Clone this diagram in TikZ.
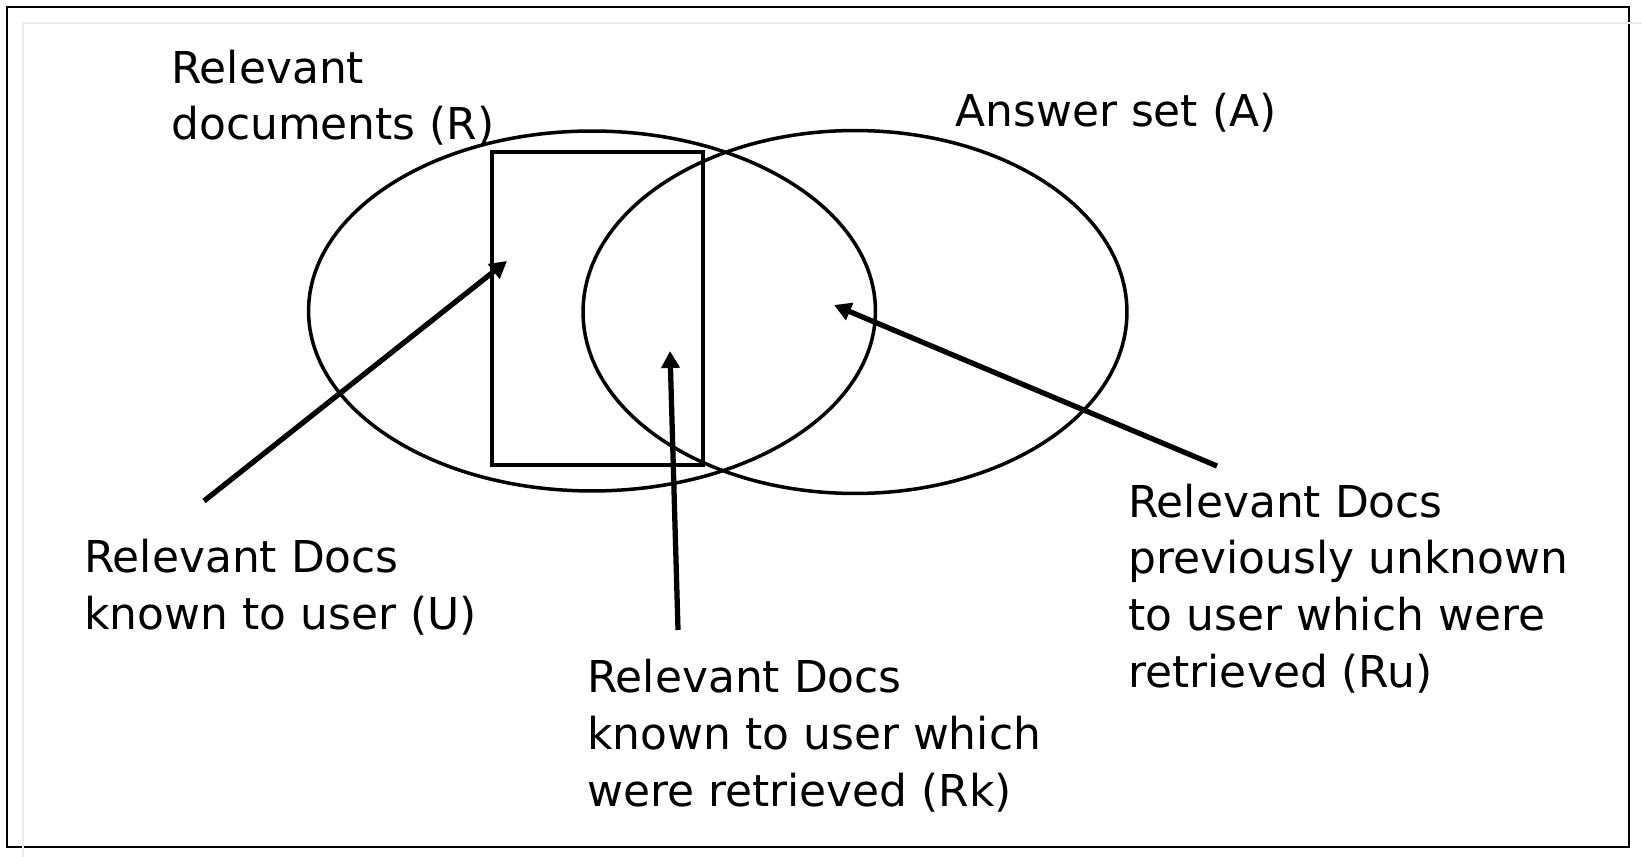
\documentclass[tikz,border=0pt]{standalone}
\usepackage{fontspec}
\setmainfont{DejaVu Sans}
\usepackage{xcolor}
\usepackage{tikz}
\usetikzlibrary{arrows.meta, shapes.geometric}

\definecolor{rulegray}{RGB}{236,234,226}

\begin{document}
\begin{tikzpicture}[
  x=0.02cm, y=-0.02cm,
  font=\fontsize{25}{32.2}\selectfont,
  lbl/.style={anchor=base west, align=left, inner sep=0pt},
  set/.style={draw, ellipse, line width=2pt, inner sep=0pt},
  known/.style={draw, rectangle, line width=2.8pt, inner sep=0pt},
  ptr/.style={-{Triangle[length=0.34cm, width=0.36cm]}, line width=3pt}
]
\useasboundingbox (0,0) rectangle (1642,857);
% slide frame
\draw[line width=1.4pt] (7,7) rectangle (1629,847);
\draw[line width=1pt, rulegray] (23,857) -- (23,23) -- (1642,23);
% the two sets
\node[set, minimum width=11.34cm, minimum height=7.2cm] (R) at (592,311) {};
\node[set, minimum width=10.88cm, minimum height=7.26cm] (A) at (855,312) {};
% documents known to the user
\node[known, minimum width=4.22cm, minimum height=6.26cm] (U) at (597.5,308.5) {};
% labels (placed at the baseline of their last line)
\node[lbl] (labR) at (171,140) {Relevant\\documents (R)};
\node[lbl] (labA) at (955,127) {Answer set (A)};
\node[lbl] (labU) at (84,629) {Relevant Docs\\known to user (U)};
\node[lbl] (labRk) at (587,806) {Relevant Docs\\known to user which\\were retrieved (Rk)};
\node[lbl] (labRu) at (1128,687) {Relevant Docs\\previously unknown\\to user which were\\retrieved (Ru)};
% arrow ends
\coordinate (tailU) at (204,501);
\coordinate (tipU) at (507,261);
\coordinate (tailRk) at (678,630);
\coordinate (tipRk) at (670,351);
\coordinate (tailRu) at (1217,466);
\coordinate (tipRu) at (834,305);
% pointers
\draw[ptr] (tailU) -- (tipU);
\draw[ptr] (tailRk) -- (tipRk);
\draw[ptr] (tailRu) -- (tipRu);
\end{tikzpicture}
\end{document}
